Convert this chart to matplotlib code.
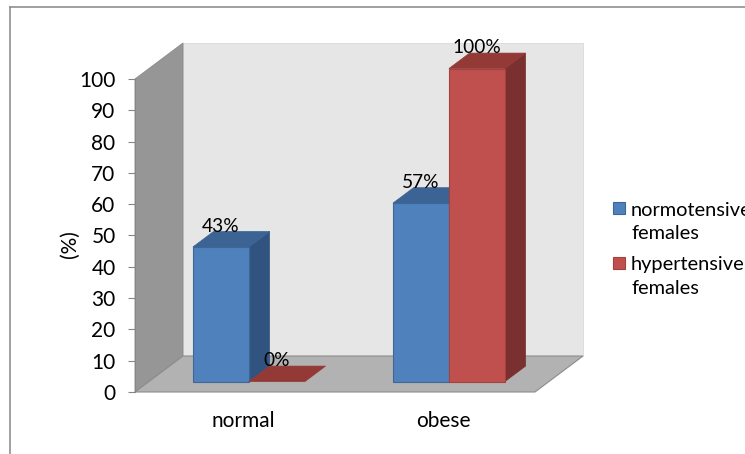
import matplotlib
matplotlib.use("Agg")
import matplotlib.pyplot as plt
from matplotlib.patches import Polygon, Rectangle
from matplotlib.lines import Line2D

plt.rcParams['font.family'] = ['Lato', 'DejaVu Sans']

# ---- data ----
categories = ["normal", "obese"]
series_names = ["normotensive\nfemales", "hypertensive\nfemales"]
normotensive = [43, 57]
hypertensive = [0, 100]
y_ticks = list(range(0, 101, 10))

W, H = 745, 454
fig = plt.figure(figsize=(W / 100, H / 100), dpi=100)
fig.patch.set_facecolor("white")

# axes = front plane of the 3-D box
ax = fig.add_axes([135 / W, 62 / H, 400 / W, 313 / H])
ax.set_xlim(0, 2)
ax.set_ylim(0, 100)
ax.patch.set_visible(False)

# depth of the box in data units
DX = 0.24
DY = 11.5
FS_TICK = 15.0
FS_CAT = 15.0
FS_VAL = 13.8
FS_LEG = 14.4


def proj(x, y, d):
    return (x + d * DX, y + d * DY)


def poly(pts, fc, ec="none", lw=0.0, z=1):
    p = Polygon([proj(*pt) for pt in pts], closed=True, facecolor=fc,
                edgecolor=ec, linewidth=lw, clip_on=False, zorder=z)
    ax.add_patch(p)


# walls and floor
poly([(0, 0, 1), (2, 0, 1), (2, 100, 1), (0, 100, 1)], "#e6e6e6", "#d9d9d9", 0.6, z=1)
poly([(0, 0, 0), (0, 0, 1), (0, 100, 1), (0, 100, 0)], "#969696", "#8a8a8a", 0.6, z=1)
poly([(0, 0, 0), (2, 0, 0), (2, 0, 1), (0, 0, 1)], "#b2b2b2", "#8c8c8c", 0.8, z=1)

# bars
d0, d1 = 0.29, 0.72
bw = 0.28
styles = [
    dict(front="#4f81bd", top="#3b6393", side="#30547f", edge="#3d6797"),
    dict(front="#c0504d", top="#933936", side="#79302e", edge="#a1423f"),
]
series = [normotensive, hypertensive]

z = 3
for i in range(len(categories)):
    for s, vals in enumerate(series):
        v = vals[i]
        x0 = i + 0.5 - bw + s * bw
        x1 = x0 + bw
        st = styles[s]
        if v > 0:
            poly([(x1, 0, d0), (x1, 0, d1), (x1, v, d1), (x1, v, d0)], st["side"], st["side"], 0.5, z)
            poly([(x0, v, d0), (x1, v, d0), (x1, v, d1), (x0, v, d1)], st["top"], st["top"], 0.5, z)
            poly([(x0, 0, d0), (x1, 0, d0), (x1, v, d0), (x0, v, d0)], st["front"], st["edge"], 0.8, z)
        else:
            poly([(x0, 0, d0), (x1, 0, d0), (x1, 0, d1), (x0, 0, d1)], st["top"], st["top"], 0.5, z)
        z += 1
        lx, ly = proj((x0 + x1) / 2, v, d0)
        ax.text(lx, ly + 6.7, f"{v}%", ha="center", va="center", fontsize=FS_VAL,
                color="black", zorder=20, clip_on=False)

# axes styling
for sp in ["top", "right", "bottom"]:
    ax.spines[sp].set_visible(False)
ax.spines["left"].set_color("#868686")
ax.spines["left"].set_linewidth(0.8)
ax.set_yticks(y_ticks)
ax.set_yticklabels([str(t) for t in y_ticks], fontsize=FS_TICK)
ax.tick_params(axis="y", length=5, width=0.8, color="#868686", pad=9)
ax.set_xticks([i + 0.54 for i in range(len(categories))])
ax.set_xticklabels(categories, fontsize=FS_CAT)
ax.tick_params(axis="x", length=0, pad=14)
ax.set_ylabel("(%)", fontsize=FS_TICK)
ax.yaxis.set_label_coords(-0.1375, 0.473)

# legend
line_gap = 23.5
for k, (name, st) in enumerate(zip(series_names, styles)):
    ytop = 202 + k * 54.5
    fig.add_artist(Rectangle((613 / W, 1 - (ytop + 12) / H), 12 / W, 12 / H,
                             transform=fig.transFigure, facecolor=st["front"],
                             edgecolor=st["edge"], linewidth=0.8))
    for j, line in enumerate(name.split("\n")):
        yc = ytop + 8 + j * line_gap
        fig.text(631 / W, 1 - yc / H, line, fontsize=FS_LEG, va="center",
                 ha="left", transform=fig.transFigure)

# outer frame
fig.add_artist(Line2D([10 / W, 10 / W], [0, 1 - 7 / H], transform=fig.transFigure,
                      color="#868686", linewidth=1.1))
fig.add_artist(Line2D([10 / W, 1], [1 - 7 / H, 1 - 7 / H], transform=fig.transFigure,
                      color="#868686", linewidth=1.1))

fig.savefig("out.png", dpi=100)
